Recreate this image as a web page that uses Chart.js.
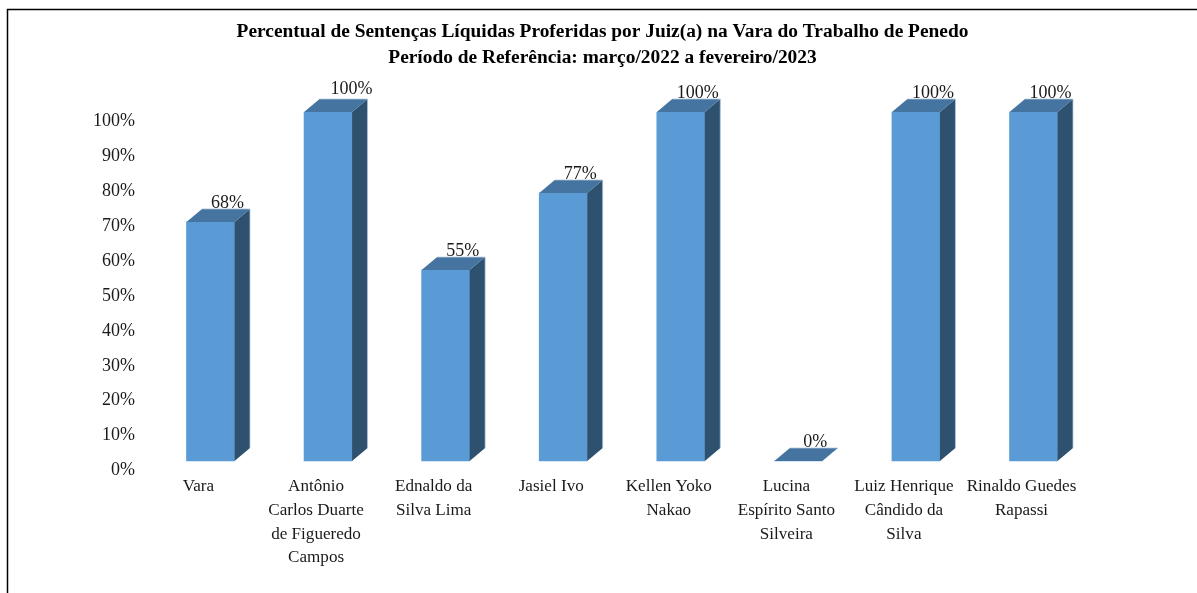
<!DOCTYPE html>
<html lang="pt">
<head>
<meta charset="utf-8">
<style>
html,body{margin:0;padding:0;background:#fff;overflow:hidden}
#wrap{position:relative;width:1197px;height:593px}
canvas{display:block}
</style>
<script src="https://cdn.jsdelivr.net/npm/chart.js@4"></script>
</head>
<body>
<div id="wrap"><canvas id="c" width="1197" height="593"></canvas></div>
<script>
const titleLines = ["Percentual de Sentenças Líquidas Proferidas por Juiz(a) na Vara do Trabalho de Penedo", "Período de Referência: março/2022 a fevereiro/2023"];
const categories = [["Vara"], ["Antônio","Carlos Duarte","de Figueredo","Campos"], ["Ednaldo da","Silva Lima"], ["Jasiel Ivo"], ["Kellen Yoko","Nakao"], ["Lucina","Espírito Santo","Silveira"], ["Luiz Henrique","Cândido da","Silva"], ["Rinaldo Guedes","Rapassi"]];
const barValues = [68.5, 100, 54.7, 76.8, 100, 0, 100, 100];
const labelValues = [68, 100, 55, 77, 100, 0, 100, 100];
const tickValues = [0,10,20,30,40,50,60,70,80,90,100];

const SERIF = '"Liberation Serif","Times New Roman",serif';
const DEPTH_X = 15.5, DEPTH_Y = 13;
const FRONT = '#5B9BD5', TOP = '#44749F', SIDE = '#2E5170', EDGE = '#B4C7DC';

function poly(ctx, pts, fill){
  ctx.beginPath();
  pts.forEach((p,i)=> i ? ctx.lineTo(p[0],p[1]) : ctx.moveTo(p[0],p[1]));
  ctx.closePath();
  ctx.fillStyle = fill; ctx.fill();
}
const frame = {
  id:'frame',
  beforeDraw(chart){
    const ctx = chart.ctx;
    ctx.save();
    ctx.strokeStyle = '#000'; ctx.lineWidth = 1.5;
    ctx.beginPath();
    ctx.moveTo(7.5,593); ctx.lineTo(7.5,9.5); ctx.lineTo(1197,9.5);
    ctx.stroke();
    ctx.restore();
  }
};
const depth = {
  id:'depth',
  afterDatasetsDraw(chart){
    const ctx = chart.ctx, meta = chart.getDatasetMeta(0);
    ctx.save();
    meta.data.forEach((bar,i)=>{
      const {x,y,base,width} = bar.getProps(['x','y','base','width'],true);
      const l = x-width/2, r = x+width/2;
      if (base-y > 0) poly(ctx, [[r,y],[r+DEPTH_X,y-DEPTH_Y],[r+DEPTH_X,base-DEPTH_Y],[r,base]], SIDE);
      poly(ctx, [[l,y],[l+DEPTH_X,y-DEPTH_Y],[r+DEPTH_X,y-DEPTH_Y],[r,y]], TOP);
      ctx.strokeStyle = EDGE; ctx.lineWidth = 0.8;
      ctx.beginPath();
      ctx.moveTo(l+DEPTH_X,y-DEPTH_Y); ctx.lineTo(r+DEPTH_X,y-DEPTH_Y);
      if (base-y > 0) ctx.lineTo(r+DEPTH_X,base-DEPTH_Y);
      ctx.stroke();
      ctx.font = '18px '+SERIF;
      ctx.fillStyle = '#1a1a1a';
      ctx.textAlign = 'center'; ctx.textBaseline = 'middle';
      const tall = i === 1;
      ctx.fillText(labelValues[i]+'%', x+(tall?23.5:17), y-(tall?22.5:18.5));
    });
    ctx.restore();
  }
};
new Chart(document.getElementById('c'), {
  type:'bar',
  data:{labels:categories, datasets:[{data:barValues, backgroundColor:FRONT, borderWidth:0, barThickness:48, yAxisID:'y'}]},
  plugins:[frame, depth],
  options:{
    responsive:false, animation:false, devicePixelRatio:1,
    layout:{padding:{left:8,right:0,top:0,bottom:0}},
    plugins:{
      legend:{display:false}, tooltip:{enabled:false},
      title:{display:true, text:titleLines, color:'#000', font:{family:SERIF,size:19.4,weight:'bold',lineHeight:26/19.4}, padding:{top:19,bottom:41}}
    },
    scales:{
      x:{
        grid:{display:false,drawTicks:false}, border:{display:false},
        afterFit(s){ s.height = 124; },
        ticks:{autoSkip:false,maxRotation:0,minRotation:0,labelOffset:-12,padding:6,color:'#1a1a1a',font:{family:SERIF,size:17.1,lineHeight:23.67/17.1}}
      },
      y:{
        position:'right', min:-8/3.49, max:100,
        grid:{display:false,drawTicks:false}, border:{display:false},
        ticks:{display:false},
        afterFit(s){ s.width = 104.7; }
      },
      yTicks:{
        position:'left', min:0.43, max:102.72,
        grid:{display:false,drawTicks:false}, border:{display:false},
        afterFit(s){ s.width = 143.7; },
        afterBuildTicks(s){ s.ticks = tickValues.map(v=>({value:v})); },
        ticks:{padding:16.7,color:'#1a1a1a',font:{family:SERIF,size:18},callback:v=>v+'%'}
      }
    }
  }
});
</script>
</body>
</html>
